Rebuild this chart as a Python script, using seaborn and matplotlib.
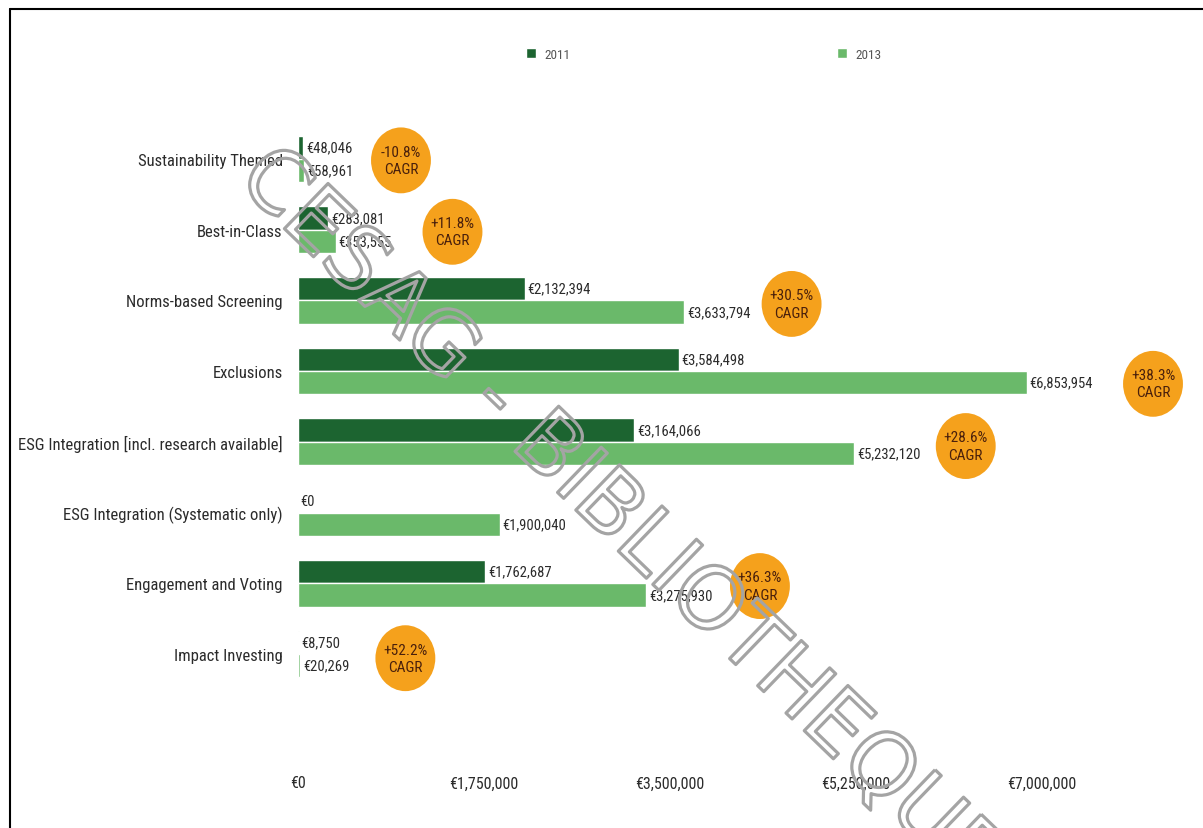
import matplotlib
matplotlib.use("Agg")
import matplotlib.pyplot as plt
import matplotlib.patheffects as pe
from matplotlib import font_manager as fm
from matplotlib.path import Path
from matplotlib.transforms import Affine2D
import seaborn as sns
import pandas as pd

# ---- data -------------------------------------------------------------
categories = [
    "Sustainability Themed",
    "Best-in-Class",
    "Norms-based Screening",
    "Exclusions",
    "ESG Integration [incl. research available]",
    "ESG Integration (Systematic only)",
    "Engagement and Voting",
    "Impact Investing",
]
years = ["2011", "2013"]
values_2011 = [48046, 283081, 2132394, 3584498, 3164066, 0, 1762687, 8750]
values_2013 = [58961, 353555, 3633794, 6853954, 5232120, 1900040, 3275930, 20269]
cagr_labels = ["-10.8%", "+11.8%", "+30.5%", "+38.3%", "+28.6%", None, "+36.3%", "+52.2%"]
x_ticks = [0, 1750000, 3500000, 5250000, 7000000]
x_tick_labels = ["€0", "€1,750,000", "€3,500,000", "€5,250,000", "€7,000,000"]

# ---- style ------------------------------------------------------------
sns.set_theme(style="white")


def pick_condensed_font():
    """Return (family, stretch) of an installed condensed sans face, if any."""
    preferred = ["Roboto Condensed", "Liberation Sans Narrow", "DejaVu Sans",
                 "Open Sans", "Noto Sans", "Roboto"]
    found = []
    for f in fm.fontManager.ttflist:
        fname = f.fname.lower()
        st = str(f.stretch).lower()
        if f.weight not in (400, "normal", "regular", "book"):
            continue
        if "italic" in fname or "oblique" in fname or f.style != "normal":
            continue
        if ("condensed" in fname or "narrow" in fname or "condensed" in st
                or "narrow" in f.name.lower() or "condensed" in f.name.lower()):
            found.append(f)
    for fam in preferred:
        for f in found:
            if f.name == fam:
                return f.name, f.stretch
    if found:
        return found[0].name, found[0].stretch
    return None, None


cond_family, cond_stretch = pick_condensed_font()
if cond_family:
    plt.rcParams["font.family"] = [cond_family, "DejaVu Sans"]
    plt.rcParams["font.stretch"] = cond_stretch
    base = 11.5
else:
    plt.rcParams["font.family"] = ["DejaVu Sans"]
    base = 10

dark_green = "#1c6430"
light_green = "#6ab96a"
orange = "#f5a11c"
text_col = "#2b2b2b"

df = pd.DataFrame({
    "category": categories * 2,
    "year": [years[0]] * len(categories) + [years[1]] * len(categories),
    "value": values_2011 + values_2013,
})

fig = plt.figure(figsize=(12.03, 8.29), dpi=100)
ax = fig.add_axes([0.2477, 0.1673, 0.7422, 0.6824])

sns.barplot(
    data=df, y="category", x="value", hue="year", order=categories,
    hue_order=years, palette=[dark_green, light_green], orient="h",
    width=0.66, saturation=1, ax=ax,
)

ax.set_xlim(0, 8400000)
ax.set_ylim(len(categories) - 0.5, -0.5)
ax.set_xlabel("")
ax.set_ylabel("")
sns.despine(ax=ax, left=True, bottom=True)

ax.set_xticks(x_ticks)
ax.set_xticklabels(x_tick_labels)
ax.tick_params(axis="x", length=0, pad=62, labelsize=base, labelcolor=text_col)
ax.tick_params(axis="y", length=0, pad=11, labelsize=base + 0.5, labelcolor=text_col)

# value labels at the end of each bar
for container, vals in zip(ax.containers, [values_2011, values_2013]):
    ax.bar_label(container, labels=[f"€{v:,}" for v in vals], padding=2,
                 fontsize=base - 1, color=text_col)

# CAGR badges beside each category
badge_offsets = [910000, 1100000, 1010000, 1190000, 1050000, None, 1070000, 990000]
badge_dy = [0.02, 0.03, 0.05, 0.18, 0.06, None, 0.04, 0.06]
ellipse = Path.unit_circle().transformed(Affine2D().scale(1.0, 1.1))
for i, lab in enumerate(cagr_labels):
    if lab is None:
        continue
    bx = max(values_2011[i], values_2013[i]) + badge_offsets[i]
    by = i + badge_dy[i]
    ax.scatter([bx], [by], s=2250, marker=ellipse, color=orange,
               edgecolors="none", zorder=3, clip_on=False)
    ax.text(bx, by, f"{lab}\nCAGR", ha="center", va="center", fontsize=base - 0.5,
            color="#4a200c", linespacing=1.3, zorder=4, clip_on=False)

# legend along the top
leg = ax.legend(loc="center", bbox_to_anchor=(0.455, 1.123), ncol=2, frameon=False,
                handlelength=0.7, handleheight=0.9, handletextpad=0.7,
                columnspacing=20.2, fontsize=base - 2)
for t in leg.get_texts():
    t.set_color("#555555")

# watermark across the figure
fig.text(0.515, 0.372, "CESAG - BIBLIOTHEQUE", rotation=-44, fontsize=62,
         ha="center", va="center", color="none", family="DejaVu Sans",
         stretch="normal", rotation_mode="anchor",
         path_effects=[pe.withStroke(linewidth=2.3, foreground="#a4a4a4")])

# frame lines on the left and top edges
fig.add_artist(plt.Line2D([10 / 1203, 10 / 1203], [0, 1 - 10 / 829],
                          color="black", lw=1.5, transform=fig.transFigure))
fig.add_artist(plt.Line2D([10 / 1203, 1], [1 - 10 / 829, 1 - 10 / 829],
                          color="black", lw=1.5, transform=fig.transFigure))

fig.savefig("out.png", dpi=100)
